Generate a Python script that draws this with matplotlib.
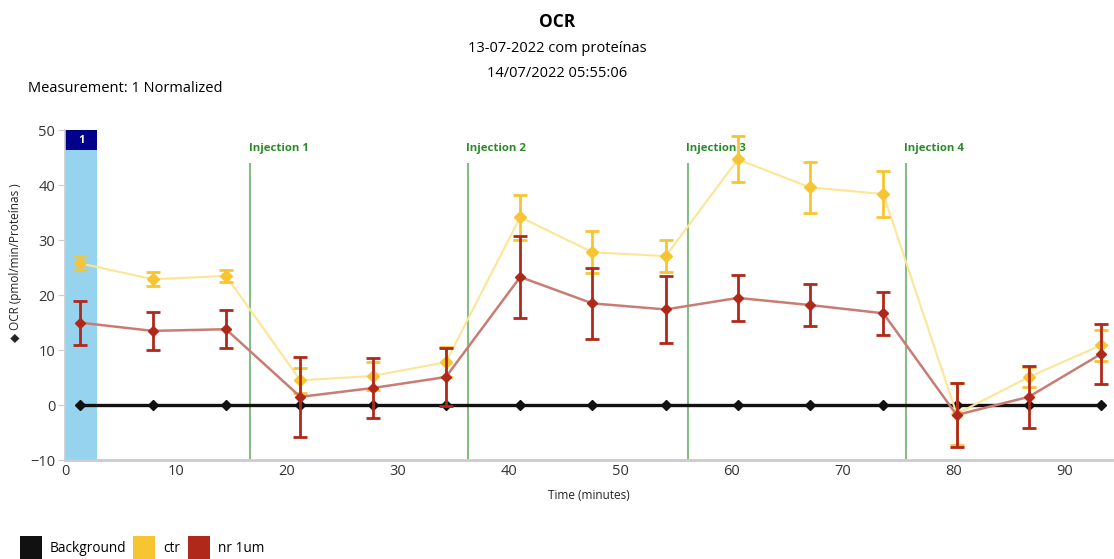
import matplotlib
matplotlib.use("Agg")
import matplotlib.pyplot as plt
from matplotlib.patches import Rectangle

plt.rcParams['font.family'] = ['Open Sans', 'DejaVu Sans']

# ---- data ----
time_min = [1.35, 7.9, 14.5, 21.2, 27.7, 34.3, 41.0, 47.5, 54.1, 60.6, 67.1, 73.7, 80.3, 86.8, 93.3]
background = [0, 0, 0, 0, 0, 0, 0, 0, 0, 0, 0, 0, 0, 0, 0]
ctr = [25.8, 22.9, 23.5, 4.5, 5.3, 7.8, 34.2, 27.8, 27.1, 44.7, 39.6, 38.4, -1.6, 5.1, 10.9]
ctr_err = [1.3, 1.3, 1.1, 2.3, 2.5, 2.7, 4.1, 3.8, 2.9, 4.2, 4.6, 4.1, 5.7, 1.8, 2.8]
nr = [15.0, 13.5, 13.8, 1.5, 3.1, 5.1, 23.3, 18.5, 17.4, 19.5, 18.2, 16.7, -1.8, 1.5, 9.3]
nr_err = [4.0, 3.4, 3.5, 7.3, 5.4, 5.3, 7.4, 6.4, 6.1, 4.2, 3.8, 3.9, 5.9, 5.6, 5.4]
injection_times = [16.7, 36.3, 56.1, 75.7]
injection_labels = ["Injection 1", "Injection 2", "Injection 3", "Injection 4"]
measurement_window = (0, 2.9)
x_ticks = [0, 10, 20, 30, 40, 50, 60, 70, 80, 90]
y_ticks = [-10, 0, 10, 20, 30, 40, 50]
series_names = ["Background", "ctr", "nr 1um"]

# ---- colours ----
c_bg = "#111111"
c_ctr = "#f7c531"
c_ctr_line = "#fde596"
c_nr = "#b0281a"
c_nr_line = "#c97c74"
c_inj_line = "#86bd86"
c_inj_text = "#2a8a2a"

fig = plt.figure(figsize=(11.14, 5.59), dpi=100)
ax = fig.add_axes([0.0583, 0.177, 0.94, 0.590])
ax.set_xlim(0, 94.3)
ax.set_ylim(-10, 50)

# measurement window band
ax.axvspan(measurement_window[0], measurement_window[1], ymin=0, ymax=1,
           color="#95d3ef", zorder=0, lw=0)
ax.add_patch(Rectangle((measurement_window[0], 46.4), measurement_window[1] - measurement_window[0], 3.6,
                       facecolor="#00008b", edgecolor="none", zorder=1))
ax.text(sum(measurement_window) / 2, 48.2, "1", color="white", ha="center", va="center",
        fontsize=8, fontweight="bold", zorder=2)

# injections
for t, lab in zip(injection_times, injection_labels):
    ax.plot([t, t], [-10, 44.1], color=c_inj_line, lw=1.5, zorder=1, solid_capstyle="butt")
    ax.text(t - 0.15, 46.6, lab, color=c_inj_text, fontsize=8.2, fontweight="bold",
            ha="left", va="center")

# background series
ax.plot(time_min, background, color=c_bg, lw=2.4, marker="D", ms=5, zorder=3)

# ctr
ax.plot(time_min, ctr, color=c_ctr_line, lw=1.5, zorder=4)
ax.errorbar(time_min, ctr, yerr=ctr_err, fmt="D", color=c_ctr, ms=6.5, ecolor=c_ctr,
            elinewidth=2, capsize=5, capthick=2, zorder=5)

# nr 1um
ax.plot(time_min, nr, color=c_nr_line, lw=1.8, zorder=6)
ax.errorbar(time_min, nr, yerr=nr_err, fmt="D", color=c_nr, ms=5, ecolor=c_nr,
            elinewidth=2, capsize=5, capthick=2, zorder=7)

# axes styling
for s in ["top", "right"]:
    ax.spines[s].set_visible(False)
ax.spines["left"].set_color("#c8ccd0")
ax.spines["bottom"].set_color("#c8ccd0")
ax.spines["left"].set_linewidth(1.2)
ax.spines["bottom"].set_linewidth(2)
ax.set_xticks(x_ticks)
ax.set_yticks(y_ticks)
ax.tick_params(axis="x", length=0, labelsize=10.5, labelcolor="#333333", pad=3)
ax.tick_params(axis="y", length=5, color="#c8ccd0", labelsize=10.5, labelcolor="#333333", pad=2)

ax.set_xlabel("Time (minutes)", fontsize=8.5, color="#222222", labelpad=7)
fig.text(0.014, 0.53, "\u25c6 OCR (pmol/min/Proteínas )", rotation=90, fontsize=8.5,
         color="#222222", ha="center", va="center", fontweight="medium")

# titles
fig.text(0.5, 0.96, "OCR", fontsize=12.5, fontweight="bold", ha="center", va="center")
fig.text(0.5, 0.914, "13-07-2022 com proteínas", fontsize=10.5, ha="center", va="center")
fig.text(0.5, 0.869, "14/07/2022 05:55:06", fontsize=10.5, ha="center", va="center")
fig.text(0.025, 0.842, "Measurement: 1 Normalized", fontsize=10.5, ha="left", va="center")

# legend
leg_cols = [c_bg, c_ctr, c_nr]
leg_x = [20, 133, 188]
for name, col, px in zip(series_names, leg_cols, leg_x):
    fig.patches.append(Rectangle((px / 1114, 0.0), 22 / 1114, 23 / 559, transform=fig.transFigure,
                                 facecolor=col, edgecolor="none"))
    fig.text((px + 30) / 1114, 0.018, name, fontsize=9.8, ha="left", va="center")

fig.savefig("out.png", dpi=100)
